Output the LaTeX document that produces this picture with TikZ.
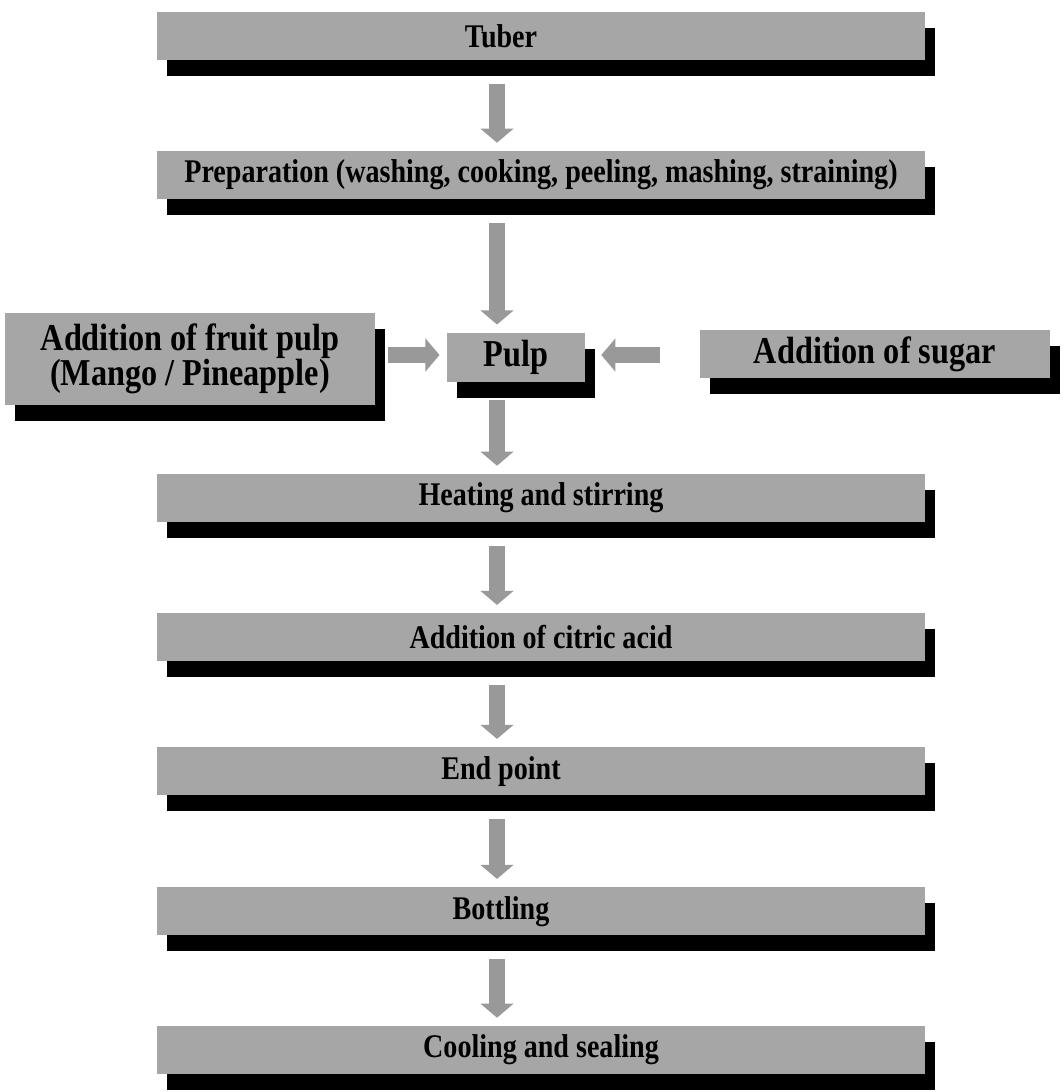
\documentclass[tikz,border=0pt]{standalone}
\usepackage{fontspec}
\setmainfont[FakeStretch=0.85]{Liberation Serif}
\usetikzlibrary{shadows,arrows.meta}
\tikzset{
  stage/.style={fill=black!35, inner sep=0pt, minimum height=1.2cm,
    font=\bfseries\fontsize{23.5}{24}\selectfont,
    drop shadow={shadow xshift=.25cm, shadow yshift=-.4cm, fill=black, opacity=1}},
  wide/.style={stage, minimum width=19.2cm},
  offleft/.style={execute at begin node={\hspace*{-2cm}}},
  side/.style={stage, font=\bfseries\fontsize{27}{25}\selectfont},
  flow/.style={draw=black!40, line width=12pt, -{Triangle[length=10pt,width=23pt]}}
}
\begin{document}
\begin{tikzpicture}
\useasboundingbox (0,0) rectangle (26.575,-27.3);
\fill[white] (0,0) rectangle (26.575,-27.3);
% main column
\node[wide, offleft] (tuber) at (13.525,-.9) {Tuber};
\node[wide] (prep) at (13.525,-4.375) {Preparation (washing, cooking, peeling, mashing, straining)};
\node[wide] (heat) at (13.525,-12.45) {Heating and stirring};
\node[wide] (citric) at (13.525,-15.93) {Addition of citric acid};
\node[wide, offleft] (endpt) at (13.525,-19.28) {End point};
\node[wide, offleft] (bottle) at (13.525,-22.78) {Bottling};
\node[wide] (cool) at (13.525,-26.25) {Cooling and sealing};
% middle row
\node[side, minimum width=9.25cm, minimum height=2.3cm, align=center] (fruit) at (4.75,-8.975) {Addition of fruit pulp\\(Mango / Pineapple)};
\node[side, minimum width=3.45cm, minimum height=1.22cm] (pulp) at (12.9,-8.93) {Pulp};
\node[side, minimum width=8.75cm] (sugar) at (21.875,-8.85) {Addition of sugar};
% arrows
\coordinate (ax) at (12.425,0);
\coordinate (ay) at (0,-8.875);
\draw[flow, shorten <=.6cm, shorten >=.2cm] (tuber.south -| ax) -- (prep.north -| ax);
\draw[flow, shorten <=.6cm, shorten >=.2cm] (prep.south -| ax) -- (pulp.north -| ax);
\draw[flow, shorten <=.45cm, shorten >=.2cm] (pulp.south -| ax) -- (heat.north -| ax);
\draw[flow, shorten <=.6cm, shorten >=.2cm] (heat.south -| ax) -- (citric.north -| ax);
\draw[flow, shorten <=.6cm, shorten >=.2cm] (citric.south -| ax) -- (endpt.north -| ax);
\draw[flow, shorten <=.6cm, shorten >=.2cm] (endpt.south -| ax) -- (bottle.north -| ax);
\draw[flow, shorten <=.6cm, shorten >=.2cm] (bottle.south -| ax) -- (cool.north -| ax);
\draw[flow, shorten <=.33cm, shorten >=.18cm] (fruit.east |- ay) -- (pulp.west |- ay);
\draw[flow, shorten <=1cm, shorten >=.4cm] (sugar.west |- ay) -- (pulp.east |- ay);
\end{tikzpicture}
\end{document}
